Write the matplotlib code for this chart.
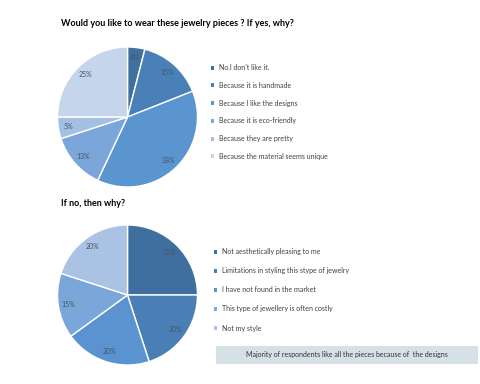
import matplotlib
matplotlib.use('Agg')
import matplotlib.pyplot as plt
from matplotlib.patches import Rectangle

plt.rcParams['font.family'] = ['Lato', 'DejaVu Sans']

# data
yes_labels = ['No.I don\'t like it.', 'Because it is handmade', 'Because I like the designs',
              'Because it is eco-friendly', 'Because they are pretty',
              'Because the material seems unique']
yes_values = [4, 15, 38, 13, 5, 25]
yes_colors = ['#40709e', '#4a80b8', '#5b95d0', '#7ba6da', '#a3bfe3', '#c5d5ec']

no_labels = ['Not aesthetically pleasing to me', 'Limitations in styling this stype of jewelry',
             'I have not found in the market', 'This type of jewellery is often costly',
             'Not my style']
no_values = [25, 20, 20, 15, 20]
no_colors = ['#3f6f9f', '#4a7fb5', '#5a93cf', '#7ba6da', '#aac3e4']

W, H = 480, 384
fig = plt.figure(figsize=(W / 100, H / 100), dpi=100)
fig.patch.set_facecolor('white')


def px_axes(cx, cy, r):
    return fig.add_axes([(cx - r) / W, 1 - (cy + r) / H, 2 * r / W, 2 * r / H])


def draw_pie(ax, values, colors):
    wedges, texts = ax.pie(values, colors=colors, startangle=90, counterclock=False,
                           labels=[f'{v}%' for v in values], labeldistance=0.85,
                           wedgeprops=dict(edgecolor='white', linewidth=1.0),
                           textprops=dict(fontsize=5, color='#44546a'))
    for t in texts:
        t.set_horizontalalignment('center')
        t.set_verticalalignment('center')
    ax.set_xlim(-1, 1)
    ax.set_ylim(-1, 1)
    ax.set_aspect('equal')
    return wedges


ax1 = px_axes(127.5, 117, 70)
w1 = draw_pie(ax1, yes_values, yes_colors)
ax2 = px_axes(127.5, 295, 70)
w2 = draw_pie(ax2, no_values, no_colors)

fig.text(61 / W, 1 - 23 / H, 'Would you like to wear these jewelry pieces ? If yes, why?',
         fontsize=6.5, fontweight='bold', va='center', ha='left', color='black')
fig.text(61 / W, 1 - 203 / H, 'If no, then why?',
         fontsize=6.5, fontweight='bold', va='center', ha='left', color='black')

leg_kw = dict(frameon=False, fontsize=5, handlelength=0.5, handleheight=0.5,
              handletextpad=0.6, borderaxespad=0, borderpad=0)
leg1 = fig.legend(w1, yes_labels, loc='upper left',
                  bbox_to_anchor=(211 / W, 1 - 64 / H), labelspacing=1.55, **leg_kw)
leg2 = fig.legend(w2, no_labels, loc='upper left',
                  bbox_to_anchor=(214 / W, 1 - 248 / H), labelspacing=1.75, **leg_kw)
for leg in (leg1, leg2):
    for t in leg.get_texts():
        t.set_color('#404040')
    for h in leg.legend_handles:
        h.set_edgecolor('none')

# note box
fig.add_artist(Rectangle((216 / W, 1 - 364 / H), 262 / W, 18 / H,
                         transform=fig.transFigure, facecolor='#d6e1e6', edgecolor='none'))
fig.text(347 / W, 1 - 355 / H,
         'Majority of respondents like all the pieces because of  the designs',
         fontsize=5, ha='center', va='center', color='#333333')

fig.savefig('out.png', dpi=100, facecolor='white')
